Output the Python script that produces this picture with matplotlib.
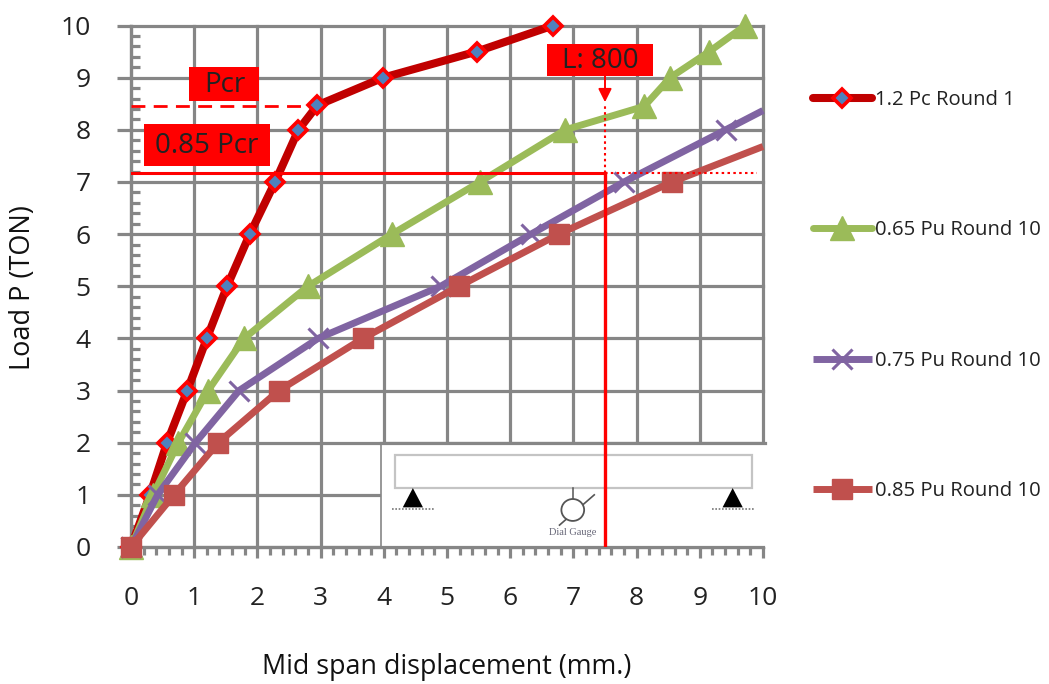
import matplotlib
matplotlib.use("Agg")
import matplotlib.pyplot as plt
from matplotlib.patches import Rectangle, Polygon, Ellipse

plt.rcParams['font.family'] = ['Open Sans', 'DejaVu Sans']

# data
red_x = [0, 0.3, 0.57, 0.89, 1.2, 1.52, 1.88, 2.28, 2.65, 2.95, 3.99, 5.47, 6.68]
red_y = [0, 1, 2, 3, 4, 5, 6, 7, 8, 8.47, 9, 9.5, 10]
green_x = [0, 0.35, 0.75, 1.22, 1.79, 2.8, 4.13, 5.52, 6.87, 8.12, 8.53, 9.15, 9.72]
green_y = [0, 1, 2, 3, 4, 5, 6, 7, 8, 8.45, 9, 9.5, 10]
purple_x = [0, 0.42, 1.02, 1.71, 2.96, 4.9, 6.33, 7.8, 9.41, 10]
purple_y = [0, 1, 2, 3, 4, 5, 6, 7, 8, 8.37]
brown_x = [0, 0.68, 1.38, 2.34, 3.67, 5.19, 6.77, 8.56, 10]
brown_y = [0, 1, 2, 3, 4, 5, 6, 7, 7.68]
labels = ["1.2 Pc Round 1", "0.65 Pu Round 10", "0.75 Pu Round 10", "0.85 Pu Round 10"]
pcr = 8.45
pcr85 = 7.17
pcr_x = 2.95
l800_x = 7.5
ticks = list(range(11))
minor = [i / 5 for i in range(51)]

W, H = 1049, 684
fig = plt.figure(figsize=(W / 100, H / 100), dpi=100)
ax = fig.add_axes([131 / W, 1 - 547 / H, 632 / W, 521.5 / H])
ax.set_xlim(0, 10)
ax.set_ylim(0, 10)
GREY = '#868686'
TXT = '#222222'

ax.set_xticks(ticks)
ax.set_yticks(ticks)
ax.set_xticks(minor, minor=True)
ax.set_yticks(minor, minor=True)
ax.set_axisbelow(True)
ax.grid(True, which='major', color=GREY, lw=2.3, clip_on=False)
ax.tick_params(axis='x', which='major', direction='out', length=8, width=2.3, color=GREY, labelsize=19, pad=20, labelcolor=TXT)
ax.tick_params(axis='x', which='minor', direction='out', length=5.5, width=2.3, color=GREY)
ax.tick_params(axis='y', which='major', direction='out', length=10, width=2.3, color=GREY, labelsize=19, pad=19, labelcolor=TXT)
ax.tick_params(axis='y', which='minor', direction='in', length=6.5, width=2.3, color=GREY)
for s in ['top', 'right']:
    ax.spines[s].set_visible(False)
for s in ['left', 'bottom']:
    ax.spines[s].set_color(GREY)
    ax.spines[s].set_linewidth(2.3)

# beam sketch in the lower right corner
ax.add_patch(Rectangle((3.96, 0), 6.1, 2, fc='white', ec='none', zorder=1.5, clip_on=False))
ax.plot([3.96, 3.96], [0, 2], color=GREY, lw=1.2, zorder=1.6)
ax.plot([3.96, 10.03], [2, 2], color=GREY, lw=2.3, zorder=1.6, clip_on=False)
ax.add_patch(Rectangle((4.18, 1.13), 5.65, 0.63, fc='white', ec='#c4c4c4', lw=1.6, zorder=1.7))
for cx in [4.46, 9.52]:
    ax.add_patch(Polygon([[cx - 0.16, 0.76], [cx + 0.16, 0.76], [cx, 1.13]], fc='black', ec='none', zorder=1.7))
    ax.plot([cx - 0.33, cx + 0.33], [0.72, 0.72], color='#777777', lw=1.2, ls=(0, (1, 1)), zorder=1.7)
ax.plot([6.99, 6.99], [0.7, 1.13], color='#555555', lw=1.1, zorder=1.7)
ax.plot([6.78, 7.33], [0.42, 1.0], color='#555555', lw=1.2, zorder=1.65)
ax.add_patch(Ellipse((6.99, 0.71), 0.36, 0.42, fc='white', ec='#555555', lw=1.3, zorder=1.7))
ax.text(6.99, 0.27, "Dial Gauge", fontsize=7.5, family='Liberation Serif', color='#666677', ha='center', va='center', zorder=1.8)

# series
ax.plot(red_x, red_y, color='#C00000', lw=5.8, marker='D', ms=9.5, mfc='#4F81BD', mec='#FF0000', mew=2.6,
        label=labels[0], clip_on=False, zorder=3, solid_capstyle='round')
ax.plot(green_x, green_y, color='#9BBB59', lw=5, marker='^', ms=17, mfc='#9BBB59', mec='#9BBB59',
        label=labels[1], clip_on=False, zorder=3.1, solid_capstyle='round')
ax.plot(purple_x, purple_y, color='#8064A2', lw=5, marker='x', ms=15, mec='#8064A2', mew=2.2,
        markevery=list(range(len(purple_x) - 1)), label=labels[2], clip_on=False, zorder=3.2, solid_capstyle='butt')
ax.plot(brown_x, brown_y, color='#C0504D', lw=5, marker='s', ms=14.5, mfc='#C0504D', mec='#C0504D',
        markevery=list(range(len(brown_x) - 1)), label=labels[3], clip_on=False, zorder=3.3, solid_capstyle='butt')

# reference lines
ax.plot([0, pcr_x], [pcr, pcr], color='#FF0000', lw=2, ls=(0, (5, 3)), zorder=2.9)
ax.plot([0, l800_x], [pcr85, pcr85], color='#FF0000', lw=2.2, zorder=3.5)
ax.plot([l800_x, 9.9], [pcr85, pcr85], color='#FF0000', lw=1.5, ls=(0, (1.2, 1.6)), zorder=3.5)
ax.plot([l800_x, l800_x], [0, pcr85], color='#FF0000', lw=2.4, zorder=3.5)
ax.plot([l800_x, l800_x], [pcr85, 8.5], color='#FF0000', lw=1.5, ls=(0, (1.2, 1.6)), zorder=3.5)
ax.annotate("", xy=(l800_x, 8.53), xytext=(l800_x, 9.05),
            arrowprops=dict(arrowstyle='-|>', color='#FF0000', lw=1.4, mutation_scale=20, shrinkA=0, shrinkB=0), zorder=3.6)

box_args = dict(fc='#FF0000', ec='none', zorder=3.55)
ax.add_patch(Rectangle((0.92, 8.56), 1.11, 0.65, **box_args))
ax.add_patch(Rectangle((0.2, 7.3), 2.0, 0.82, **box_args))
ax.add_patch(Rectangle((6.58, 9.03), 1.68, 0.61, **box_args))
ax.text(1.48, 8.86, "Pcr", fontsize=20, ha='center', va='center', color=TXT, zorder=4)
ax.text(1.2, 7.68, "0.85 Pcr", fontsize=20, ha='center', va='center', color=TXT, zorder=4)
ax.text(7.42, 9.31, "L: 800", fontsize=20, ha='center', va='center', color=TXT, zorder=4)

fig.text(447 / W, 1 - 667 / H, "Mid span displacement (mm.)", fontsize=19.4, ha='center', va='center', color='#111111')
fig.text(23 / W, 1 - 288 / H, "Load P (TON)", fontsize=19.5, rotation=90, ha='center', va='center', color='#111111')

ax.legend(loc='upper left', bbox_to_anchor=(813 / W, 1 - 90 / H), bbox_transform=fig.transFigure,
          frameon=False, fontsize=14.6, handlelength=2.9, handletextpad=0.15, labelspacing=5.44,
          borderpad=0, borderaxespad=0, numpoints=1, labelcolor=TXT)

fig.savefig("out.png", dpi=100)
